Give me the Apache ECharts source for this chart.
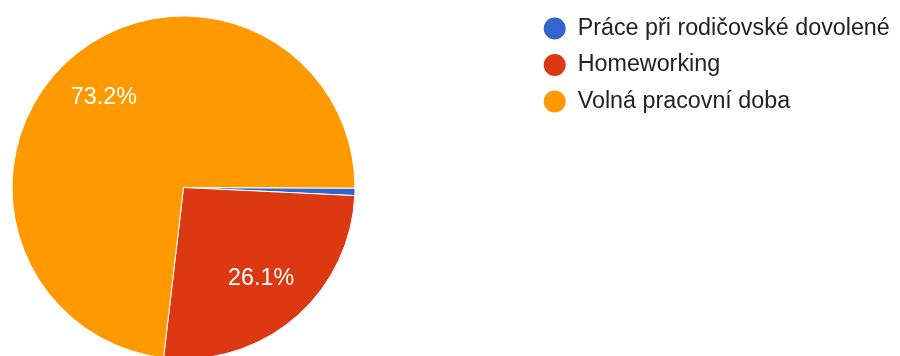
<!DOCTYPE html>
<html>
<head>
<meta charset="utf-8">
<script src="https://cdn.jsdelivr.net/npm/echarts@6/dist/echarts.min.js"></script>
<style>
  html, body { margin: 0; padding: 0; background: #fff; }
  #chart { width: 900px; height: 356px; }
</style>
</head>
<body>
<div id="chart"></div>
<script>
// Survey answers and their shares (percent)
const categories = ['Práce při rodičovské dovolené', 'Homeworking', 'Volná pracovní doba'];
const shares = [0.7, 26.1, 73.2];
const colors = ['#3366cc', '#dc3912', '#ff9900'];

const FONT = 'Arial, "Liberation Sans", sans-serif';
const center = [183.5, 187.5];

const sliceData = categories.map((name, i) => ({
  name: name,
  value: shares[i],
  itemStyle: { color: colors[i] }
}));

const chart = echarts.init(document.getElementById('chart'), null, { renderer: 'canvas' });

chart.setOption({
  animation: false,
  legend: {
    orient: 'vertical',
    left: 541.7,
    top: 15.5,
    padding: 0,
    icon: 'circle',
    itemWidth: 24,
    itemHeight: 24,
    itemGap: 10.5,
    selectedMode: false,
    textStyle: {
      fontFamily: FONT,
      fontSize: 23.3,
      lineHeight: 20,
      color: '#222222',
      padding: [0, 0, 0, 6]
    },
    data: categories
  },
  series: [
    {
      // the pie itself
      type: 'pie',
      center: center,
      radius: [0, 171.5],
      startAngle: -0.2,
      clockwise: true,
      silent: true,
      label: { show: false },
      labelLine: { show: false },
      itemStyle: { borderColor: '#ffffff', borderWidth: 1 },
      data: sliceData
    },
    {
      // transparent ring that only carries the percentage labels
      type: 'pie',
      center: center,
      radius: [62, 172],
      startAngle: -0.2,
      clockwise: true,
      silent: true,
      minShowLabelAngle: 5,
      itemStyle: { color: 'rgba(0,0,0,0)', borderWidth: 0 },
      labelLine: { show: false },
      label: {
        show: true,
        position: 'inside',
        fontFamily: FONT,
        fontSize: 23.3,
        color: '#ffffff',
        formatter: p => p.value.toFixed(1) + '%'
      },
      data: categories.map((name, i) => ({ name: name, value: shares[i] }))
    }
  ]
});
</script>
</body>
</html>
